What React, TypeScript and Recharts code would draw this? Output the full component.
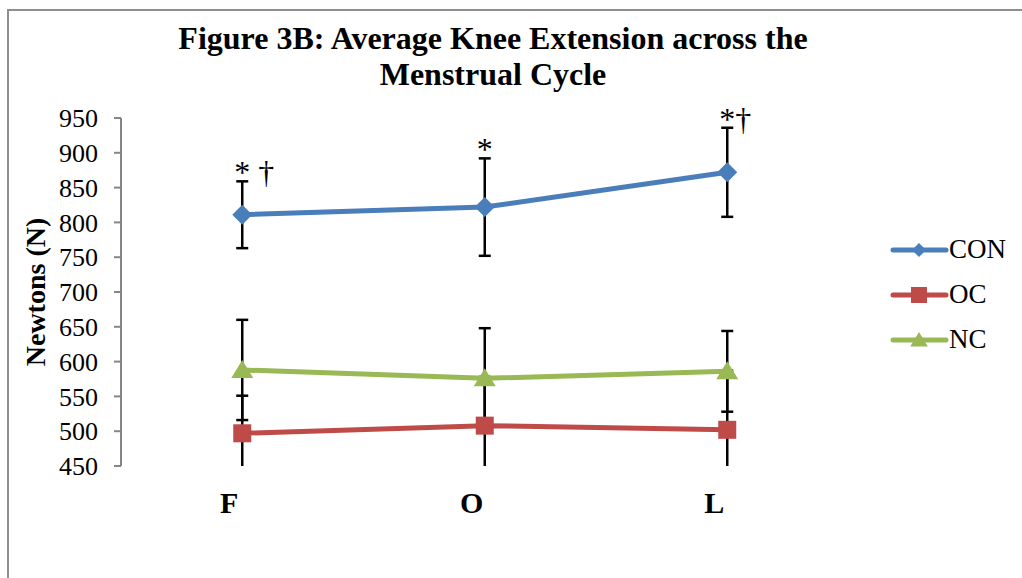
import React from "react";
import {
  LineChart,
  Line,
  XAxis,
  YAxis,
  ErrorBar,
  Legend,
  ReferenceDot,
} from "recharts";

const phases = ["F", "O", "L"];
const conMeans = [811, 822, 872];
const conErr = [48, 70, 64];
const ocMeans = [497, 508, 502];
const ocErr = [54, 70, 85];
const ncMeans = [588, 576, 586];
const ncErr = [72, 72, 58];
const sigMarks = ["* †", "*", "*†"];
const yTicks = [450, 500, 550, 600, 650, 700, 750, 800, 850, 900, 950];

const COLORS = {
  CON: "#4A7EBB",
  OC: "#BE4B48",
  NC: "#98B954",
};

const FONT = '"Liberation Serif", "Times New Roman", serif';

const data = phases.map((p, i) => ({
  phase: p,
  CON: conMeans[i],
  conErr: conErr[i],
  OC: ocMeans[i],
  ocErr: ocErr[i],
  NC: ncMeans[i],
  ncErr: ncErr[i],
}));

function marker(kind: string, cx: number, cy: number, s: number, color: string, key?: string) {
  if (kind === "diamond") {
    return (
      <path key={key} d={`M${cx},${cy - s}L${cx + s},${cy}L${cx},${cy + s}L${cx - s},${cy}Z`} fill={color} />
    );
  }
  if (kind === "square") {
    return <rect key={key} x={cx - s} y={cy - s} width={s * 2} height={s * 2} fill={color} />;
  }
  return (
    <path key={key} d={`M${cx},${cy - s}L${cx + s * 1.1},${cy + s * 0.8}L${cx - s * 1.1},${cy + s * 0.8}Z`} fill={color} />
  );
}

const seriesInfo = [
  { name: "CON", kind: "diamond", color: COLORS.CON, size: 7 },
  { name: "OC", kind: "square", color: COLORS.OC, size: 8 },
  { name: "NC", kind: "triangle", color: COLORS.NC, size: 8 },
];

const renderLegend = () => (
  <div style={{ fontFamily: FONT }}>
    {seriesInfo.map((s) => (
      <div key={s.name} style={{ display: "flex", alignItems: "center", height: 45 }}>
        <svg width={60} height={24}>
          <line x1={4} y1={12} x2={57} y2={12} stroke={s.color} strokeWidth={5} strokeLinecap="round" />
          {marker(s.kind, 30, 12, s.size, s.color)}
        </svg>
        <span style={{ fontSize: 27, color: "#000", lineHeight: "27px" }}>{s.name}</span>
      </div>
    ))}
  </div>
);

export default function App() {
  return (
    <div style={{ position: "absolute", left: 0, top: 0, width: 1022, height: 578, overflow: "hidden", background: "#fff" }}>
      <style>{`.recharts-errorBars { clip-path: url(#plotClip); }`}</style>
      <svg width={0} height={0} style={{ position: "absolute" }}>
        <defs>
          <clipPath id="plotClip" clipPathUnits="userSpaceOnUse">
            <rect x={0} y={0} width={1022} height={466} />
          </clipPath>
        </defs>
      </svg>
      <div
        style={{
          position: "absolute",
          left: 7,
          top: 9,
          width: 1100,
          height: 700,
          border: "2px solid #8e8e8e",
        }}
      />
      <div
        style={{
          position: "absolute",
          left: 0,
          top: 20,
          width: 986,
          textAlign: "center",
          fontFamily: FONT,
          fontWeight: "bold",
          fontSize: 32,
          lineHeight: "36px",
          color: "#000",
        }}
      >
        Figure 3B: Average Knee Extension across the
        <br />
        Menstrual Cycle
      </div>
      <div style={{ position: "absolute", left: 0, top: 0 }}>
        <LineChart
          width={1022}
          height={578}
          data={data}
          margin={{ top: 118, right: 173.5, bottom: 72, left: 0 }}
        >
          <XAxis
            dataKey="phase"
            height={40}
            padding={{ left: 121.25, right: 121.25 }}
            axisLine={false}
            tickLine={false}
            tickSize={0}
            tickMargin={26}
            tick={{ fontFamily: FONT, fontSize: 30, fontWeight: "bold", fill: "#000", dx: -13 }}
          />
          <YAxis
            width={121}
            domain={[450, 950]}
            ticks={yTicks}
            interval={0}
            allowDataOverflow
            axisLine={{ stroke: "#868686", strokeWidth: 2 }}
            tickLine={{ stroke: "#868686", strokeWidth: 2 }}
            tickSize={7}
            tickMargin={16}
            tick={{ fontFamily: FONT, fontSize: 26, fill: "#000" }}
            label={{
              content: (props: any) => {
                const vb = props.viewBox || { x: 0, y: 118, height: 348 };
                const cy = vb.y + vb.height / 2;
                return (
                  <text
                    x={45}
                    y={cy}
                    transform={`rotate(-90, 45, ${cy})`}
                    textAnchor="middle"
                    fontFamily={FONT}
                    fontSize={28}
                    fontWeight="bold"
                    fill="#000"
                  >
                    Newtons (N)
                  </text>
                );
              },
            }}
          />
          <Legend
            layout="vertical"
            align="center"
            verticalAlign="middle"
            width={130}
            content={renderLegend}
            wrapperStyle={{ left: 889, top: 227, width: 130 }}
          />
          <Line
            type="linear"
            dataKey="CON"
            stroke={COLORS.CON}
            strokeWidth={5}
            isAnimationActive={false}
            dot={(p: any) => marker("diamond", p.cx, p.cy, 10, COLORS.CON, `con-${p.index}`)}
            activeDot={false}
          >
            <ErrorBar dataKey="conErr" direction="y" width={6} stroke="#000" strokeWidth={2.5} />
          </Line>
          <Line
            type="linear"
            dataKey="OC"
            stroke={COLORS.OC}
            strokeWidth={5}
            isAnimationActive={false}
            dot={(p: any) => marker("square", p.cx, p.cy, 9, COLORS.OC, `oc-${p.index}`)}
            activeDot={false}
          >
            <ErrorBar dataKey="ocErr" direction="y" width={6} stroke="#000" strokeWidth={2.5} />
          </Line>
          <Line
            type="linear"
            dataKey="NC"
            stroke={COLORS.NC}
            strokeWidth={5}
            isAnimationActive={false}
            dot={(p: any) => marker("triangle", p.cx, p.cy, 10, COLORS.NC, `nc-${p.index}`)}
            activeDot={false}
          >
            <ErrorBar dataKey="ncErr" direction="y" width={6} stroke="#000" strokeWidth={2.5} />
          </Line>
          {phases.map((p, i) => (
            <ReferenceDot
              key={`sig-${p}`}
              x={p}
              y={conMeans[i] + conErr[i]}
              r={0}
              ifOverflow="visible"
              shape={(sp: any) => (
                <text x={sp.cx - 8} y={sp.cy + 2} fontFamily={FONT} fontSize={32} fill="#000">
                  {sigMarks[i]}
                </text>
              )}
            />
          ))}
        </LineChart>
      </div>
    </div>
  );
}
